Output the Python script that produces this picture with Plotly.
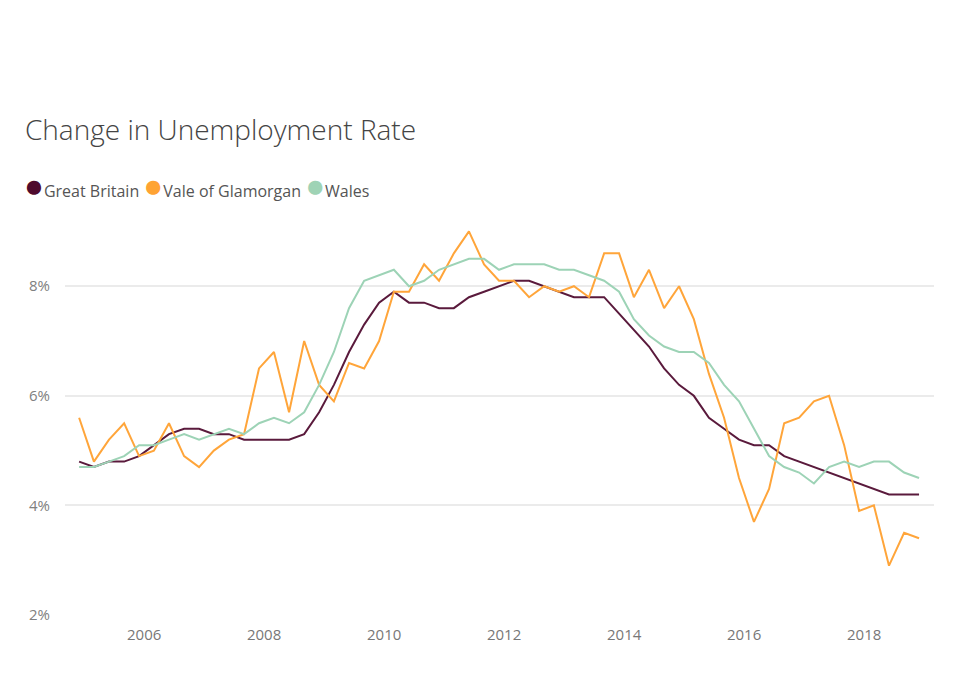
import pandas as pd
import plotly.graph_objects as go

quarters = pd.date_range('2004-12-01', periods=57, freq='3MS')

great_britain = [4.8, 4.7, 4.8, 4.8, 4.9, 5.1, 5.3, 5.4, 5.4, 5.3,
                 5.3, 5.2, 5.2, 5.2, 5.2, 5.3, 5.7, 6.2, 6.8, 7.3,
                 7.7, 7.9, 7.7, 7.7, 7.6, 7.6, 7.8, 7.9, 8.0, 8.1,
                 8.1, 8.0, 7.9, 7.8, 7.8, 7.8, 7.5, 7.2, 6.9, 6.5,
                 6.2, 6.0, 5.6, 5.4, 5.2, 5.1, 5.1, 4.9, 4.8, 4.7,
                 4.6, 4.5, 4.4, 4.3, 4.2, 4.2, 4.2]
vale_of_glamorgan = [5.6, 4.8, 5.2, 5.5, 4.9, 5.0, 5.5, 4.9, 4.7, 5.0,
                     5.2, 5.3, 6.5, 6.8, 5.7, 7.0, 6.2, 5.9, 6.6, 6.5,
                     7.0, 7.9, 7.9, 8.4, 8.1, 8.6, 9.0, 8.4, 8.1, 8.1,
                     7.8, 8.0, 7.9, 8.0, 7.8, 8.6, 8.6, 7.8, 8.3, 7.6,
                     8.0, 7.4, 6.4, 5.6, 4.5, 3.7, 4.3, 5.5, 5.6, 5.9,
                     6.0, 5.1, 3.9, 4.0, 2.9, 3.5, 3.4]
wales = [4.7, 4.7, 4.8, 4.9, 5.1, 5.1, 5.2, 5.3, 5.2, 5.3,
         5.4, 5.3, 5.5, 5.6, 5.5, 5.7, 6.2, 6.8, 7.6, 8.1,
         8.2, 8.3, 8.0, 8.1, 8.3, 8.4, 8.5, 8.5, 8.3, 8.4,
         8.4, 8.4, 8.3, 8.3, 8.2, 8.1, 7.9, 7.4, 7.1, 6.9,
         6.8, 6.8, 6.6, 6.2, 5.9, 5.4, 4.9, 4.7, 4.6, 4.4,
         4.7, 4.8, 4.7, 4.8, 4.8, 4.6, 4.5]

y_ticks = [2, 4, 6, 8]
y_labels = ['2%', '4%', '6%', '8%']

series = [('Great Britain', great_britain, '#5a1a3c', '#4f0b2e'),
          ('Vale of Glamorgan', vale_of_glamorgan, '#ffa53a', '#ffa333'),
          ('Wales', wales, '#9dd3b6', '#9fd3b5')]

fig = go.Figure()
legend_parts = []
for name, vals, line_col, dot_col in series:
    fig.add_trace(go.Scatter(x=quarters, y=vals, mode='lines', name=name,
                             line=dict(color=line_col, width=2), showlegend=False))
    legend_parts.append(f"<span style='color:{dot_col};font-size:33px'>●</span>{name}")

# legend drawn as one line of text so the dots sit tight against the names
fig.add_annotation(text=' '.join(legend_parts), xref='paper', yref='paper',
                   x=-0.05, y=1.0775, xanchor='left', yanchor='middle', showarrow=False,
                   font=dict(family='Open Sans', size=16, color='#555555'))

fig.update_layout(
    width=964, height=695,
    margin=dict(l=57, r=38, t=207, b=88),
    paper_bgcolor='white', plot_bgcolor='white',
    font=dict(family='Open Sans', color='#777777'),
    title=dict(text='Change in Unemployment Rate', x=0.0176, xanchor='left',
               y=0.8245, yanchor='middle',
               font=dict(family='Open Sans', size=28, color='#444444', weight=300)),
    xaxis=dict(range=['2004-09-06', '2019-03-02'], showgrid=False, zeroline=False,
               showline=False, ticks='', dtick='M24', tick0='2006-01-01', tickformat='%Y',
               ticklabelstandoff=9, tickfont=dict(size=15, color='#777777')),
    yaxis=dict(range=[2, 9.3], tickvals=y_ticks, ticktext=y_labels,
               showgrid=True, gridcolor='#ebebeb', gridwidth=2, zeroline=False,
               showline=False, ticks='', ticklabelstandoff=14,
               tickfont=dict(size=15, color='#808080')),
)

fig.write_html("out.html")
